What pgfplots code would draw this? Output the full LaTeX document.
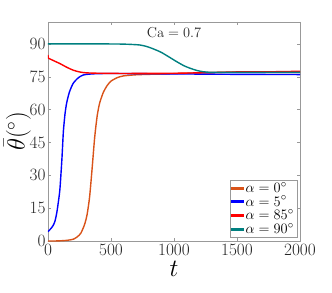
\documentclass[border=0pt]{standalone}
\usepackage{pgfplots}
\pgfplotsset{compat=1.18}
\definecolor{mOrange}{rgb}{0.85,0.325,0.098}
\definecolor{mTeal}{rgb}{0,0.5,0.5}
\definecolor{axgray}{rgb}{0.6,0.6,0.6}
\definecolor{txtgray}{rgb}{0.15,0.15,0.15}
\begin{document}
\begin{tikzpicture}
\begin{axis}[name=ax,
  scale only axis, width=252pt, height=219pt,
  xmin=0, xmax=2000, ymin=0, ymax=100,
  xtick={0,500,1000,1500,2000},
  ytick={0,15,30,45,60,75,90},
  tick align=inside,
  major tick length=3pt,
  axis line style={axgray, line width=0.5pt},
  every tick/.style={axgray},
  tick label style={font=\fontsize{16.5}{18}\selectfont, text=txtgray},
  yticklabel style={xshift=1pt},
  scaled x ticks=false,
  xticklabel={\pgfmathprintnumber[fixed,1000 sep={}]{\tick}},
  xlabel={$t$}, xlabel style={font=\fontsize{23}{25}\selectfont, yshift=1pt},
  ylabel={$\bar{\theta}(^{\circ})$}, ylabel style={font=\fontsize{23}{25}\selectfont, yshift=-8pt},
  legend style={at={(rel axis cs:0.988,0.018)}, anchor=south east, draw=axgray, fill=white,
    font=\fontsize{15}{16}\selectfont, inner sep=1pt, row sep=0pt, cells={anchor=west},
    nodes={inner ysep=1pt}},
  legend image code/.code={\fill[#1] (0pt,-0.8pt) rectangle (11pt,0.8pt);},
  legend cell align=left,
  every axis plot/.append style={line width=1.4pt},
]
\addplot[mOrange, smooth, tension=0.4] coordinates {(0,0)(50,0)(100,0.1)(150,0.3)(200,0.8)(230,1.8)(260,3.5)(290,7.5)(310,12)(330,20)(350,33)(370,47)(390,57)(410,63)(440,68)(470,71)(500,73)(550,74.6)(600,75.4)(700,75.9)(800,76.1)(1000,76.4)(1200,76.8)(1500,77.1)(1800,77)(2000,77)};
\addlegendentry{$\alpha=0^{\circ}$}
\addplot[blue, smooth, tension=0.4] coordinates {(0,4.3)(20,5.5)(40,7)(55,9)(70,13)(85,19)(95,24)(110,37)(122,50)(135,58)(148,63)(170,68)(200,72)(240,74.5)(280,75.8)(350,76.3)(500,76.5)(1000,76.3)(1500,76.1)(2000,76)};
\addlegendentry{$\alpha=5^{\circ}$}
\addplot[red, smooth, tension=0.4] coordinates {(0,85)(3,83.5)(20,83)(50,82.2)(95,81)(150,79.3)(200,78)(250,77.2)(300,76.8)(400,76.6)(600,76.5)(1000,76.6)(1300,76.9)(1500,77.2)(1800,77.3)(2000,77.5)};
\addlegendentry{$\alpha=85^{\circ}$}
\addplot[mTeal, smooth, tension=0.4] coordinates {(0,90)(400,90)(600,89.9)(730,89.5)(800,88.5)(890,86.4)(950,84.4)(1021,81.9)(1080,80)(1127,78.9)(1180,77.9)(1230,77.3)(1300,77)(1500,77)(2000,77)};
\addlegendentry{$\alpha=90^{\circ}$}
\node[font=\fontsize{14.5}{16}\selectfont, text=txtgray] at (axis cs:1000,95.3) {$\mathrm{Ca}=0.7$};
\end{axis}
\pgfresetboundingbox
\path ([xshift=-48pt,yshift=-51pt]ax.south west) rectangle ([xshift=32pt,yshift=22pt]ax.north east);
\end{tikzpicture}
\end{document}
